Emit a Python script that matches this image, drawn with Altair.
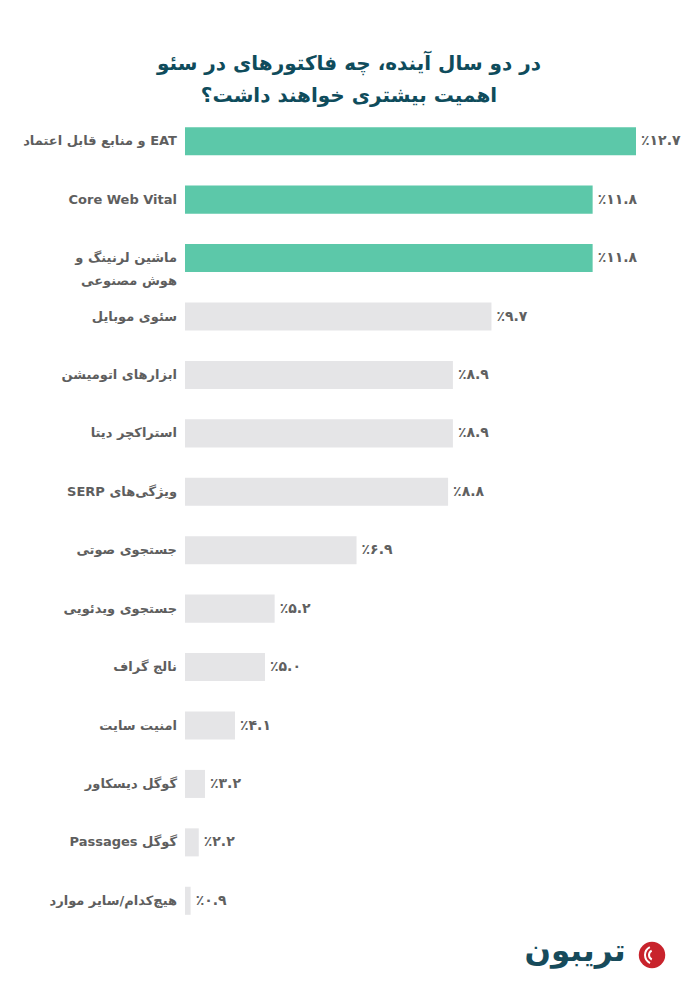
import altair as alt
import pandas as pd

categories = [
    "EAT و منابع قابل اعتماد",
    "Core Web Vital",
    "ماشین لرنینگ و\nهوش مصنوعی",
    "سئوی موبایل",
    "ابزارهای اتومیشن",
    "استراکچر دیتا",
    "ویژگی‌های SERP",
    "جستجوی صوتی",
    "جستجوی ویدئویی",
    "نالج گراف",
    "امنیت سایت",
    "گوگل دیسکاور",
    "گوگل Passages",
    "هیچ‌کدام/سایر موارد",
]
values = [12.7, 11.8, 11.8, 9.7, 8.9, 8.9, 8.8, 6.9, 5.2, 5.0, 4.1, 3.2, 2.2, 0.9]
value_labels = ["٪۱۲.۷", "٪۱۱.۸", "٪۱۱.۸", "٪۹.۷", "٪۸.۹", "٪۸.۹", "٪۸.۸",
                "٪۶.۹", "٪۵.۲", "٪۵.۰", "٪۴.۱", "٪۳.۲", "٪۲.۲", "٪۰.۹"]
highlight = [True, True, True] + [False] * 11

title_lines = ["در دو سال آینده، چه فاکتورهای در سئو", "اهمیت بیشتری خواهند داشت؟"]
logo_text = "تریبون"

RLE, PDF = "\u202b", "\u202c"

def rtl(s):
    return "\n".join(RLE + part + PDF for part in s.split("\n"))

df = pd.DataFrame({
    "cat": categories,
    "cat_label": [rtl(c) for c in categories],
    "v": values,
    "vlabel": value_labels,
    "hl": highlight,
})

FONT = "DejaVu Sans"

y_enc = alt.Y("cat:N", sort=categories, axis=None,
              scale=alt.Scale(paddingInner=0.52, paddingOuter=0.26))
x_scale = alt.Scale(domain=[0, 3.2, 5.0, 12.7], range=[0, 20, 80, 451])

bars = alt.Chart(df).mark_bar().encode(
    x=alt.X("v:Q", scale=x_scale, axis=None),
    y=y_enc,
    color=alt.Color("hl:N", scale=alt.Scale(domain=[True, False], range=["#5cc8a9", "#e5e5e7"]), legend=None),
)

vals = alt.Chart(df).mark_text(align="left", baseline="middle", dx=5, font=FONT,
                               fontWeight="bold", fontSize=14, color="#606060").encode(
    x=alt.X("v:Q", scale=x_scale),
    y=y_enc,
    text="vlabel:N",
)

cats = alt.Chart(df).mark_text(align="right", baseline="middle", font=FONT,
                               fontWeight="bold", fontSize=13, color="#5e5e5e",
                               lineBreak="\n", lineHeight=23).encode(
    x=alt.value(-8),
    y=y_enc,
    text="cat_label:N",
)

logo_df = pd.DataFrame({"t": [RLE + logo_text + PDF]})
logo = alt.Chart(logo_df).mark_text(align="center", baseline="middle", font=FONT,
                                    fontWeight="bold", fontSize=31, color="#174b5b").encode(
    x=alt.value(390), y=alt.value(840), text="t:N")
logo_dot = alt.Chart(logo_df).mark_point(filled=True, size=700, color="#c8232c", opacity=1).encode(
    x=alt.value(467), y=alt.value(843))
arc_df = pd.DataFrame({"r1": [4, 8], "r2": [6, 10]})
logo_arcs = alt.Chart(arc_df).mark_arc(color="white", theta=3.6, theta2=5.8).encode(
    x=alt.value(469), y=alt.value(843),
    radius=alt.Radius("r1:Q", scale=None), radius2=alt.Radius2("r2:Q"))

chart = alt.layer(bars, vals, cats, logo, logo_dot, logo_arcs).properties(
    width=460,
    height=818,
    padding={"left": 177, "top": 104, "right": 40, "bottom": 62},
    autosize=alt.AutoSizeParams(type="none"),
    title=alt.TitleParams(
        text=[RLE + l + PDF for l in title_lines],
        font=FONT, fontWeight="bold", fontSize=20, color="#0f4c5c",
        anchor="middle", dx=-66, offset=6, lineHeight=32,
    ),
).configure_view(stroke=None)

chart.save("out.html", embed_options={"renderer": "svg", "actions": False})
